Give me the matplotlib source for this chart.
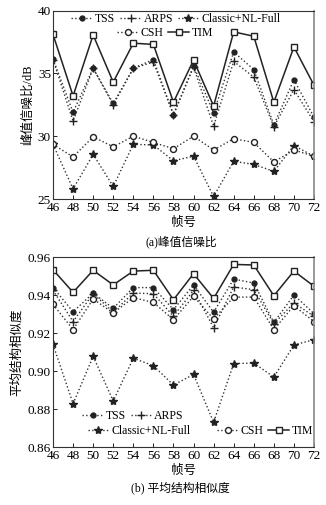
import matplotlib
matplotlib.use("Agg")
import matplotlib.pyplot as plt
from matplotlib.lines import Line2D

plt.rcParams['font.family'] = ['Liberation Serif', 'Noto Sans CJK SC']
plt.rcParams['mathtext.fontset'] = 'stix'

frames = [46, 48, 50, 52, 54, 56, 58, 60, 62, 64, 66, 68, 70, 72]

psnr_tss = [36.15, 31.9, 35.4, 32.6, 35.4, 36.1, 31.7, 35.6, 31.85, 36.7, 35.3, 30.9, 34.5, 31.5]
psnr_arps = [36.1, 31.2, 35.4, 32.5, 35.4, 35.9, 31.7, 35.5, 30.8, 35.95, 34.7, 30.75, 33.7, 31.15]
psnr_classic = [29.35, 25.8, 28.55, 26.0, 29.35, 29.3, 28.05, 28.4, 25.2, 28.0, 27.75, 27.2, 29.25, 28.4]
psnr_csh = [29.35, 28.35, 29.95, 29.15, 30.0, 29.5, 29.0, 30.0, 28.9, 29.8, 29.5, 27.95, 28.9, 28.4]
psnr_tim = [38.1, 33.2, 38.05, 34.3, 37.4, 37.3, 32.7, 36.05, 32.4, 38.3, 37.95, 32.7, 37.1, 34.05]

ssim_tss = [0.9439, 0.9312, 0.941, 0.933, 0.9439, 0.9439, 0.9323, 0.9453, 0.9309, 0.9484, 0.9463, 0.9256, 0.940, 0.9302]
ssim_arps = [0.9425, 0.926, 0.9407, 0.931, 0.941, 0.9407, 0.9288, 0.9425, 0.9228, 0.9442, 0.9428, 0.9249, 0.9358, 0.9288]
ssim_classic = [0.914, 0.8828, 0.9077, 0.8842, 0.9067, 0.9028, 0.8926, 0.8982, 0.873, 0.9039, 0.9042, 0.8968, 0.9137, 0.9165]
ssim_csh = [0.9351, 0.9218, 0.9379, 0.9305, 0.9386, 0.9361, 0.927, 0.9393, 0.9274, 0.9389, 0.9389, 0.9218, 0.9344, 0.926]
ssim_tim = [0.9533, 0.9414, 0.953, 0.9453, 0.9526, 0.953, 0.9375, 0.9512, 0.9382, 0.9561, 0.9558, 0.9396, 0.9526, 0.9446]

names = ['TSS', 'ARPS', 'Classic+NL-Full', 'CSH', 'TIM']

FS = 8.5
TFS = 9.5
LFS = 9
W, H = 326, 505
fig = plt.figure(figsize=(W / 100, H / 100), dpi=100)

styles = {
    'TSS': dict(ls=':', marker='o', ms=3.5, mfc='#222222', mec='#222222', color='#333333', lw=1.0),
    'ARPS': dict(ls=':', marker='+', ms=6, mew=1.0, mec='#222222', color='#333333', lw=1.0),
    'Classic+NL-Full': dict(ls=':', marker='*', ms=6, mfc='#222222', mec='#222222', color='#333333', lw=1.0),
    'CSH': dict(ls=':', marker='o', ms=4.3, mfc='white', mec='#222222', mew=1.0, color='#333333', lw=1.0),
    'TIM': dict(ls='-', marker='s', ms=4.3, mfc='white', mec='#222222', mew=1.0, color='#222222', lw=1.1),
}


def handles(keys):
    return [Line2D([], [], label=k, **styles[k]) for k in keys]


def setup(ax):
    ax.set_xlim(46, 72)
    ax.set_xticks(frames)
    ax.tick_params(direction='in', labelsize=TFS, length=3, width=0.6, pad=1.5)
    ax.tick_params(axis='x', pad=2.5)
    for s in ax.spines.values():
        s.set_linewidth(0.8)
        s.set_color('#333333')
    ax.spines['right'].set_color('#888888')
    ax.spines['right'].set_linewidth(1.2)


def px(x, y):
    return (x / W, 1 - y / H)


# Top plot
ax1 = fig.add_axes([53 / W, 1 - 199 / H, 261 / W, 188.5 / H])
for k, d in zip(names, [psnr_tss, psnr_arps, psnr_classic, psnr_csh, psnr_tim]):
    ax1.plot(frames, d, **styles[k])
setup(ax1)
ax1.set_ylim(25, 40)
ax1.set_yticks([25, 30, 35, 40])
ax1.set_ylabel('峰值信噪比/dB', fontsize=LFS, labelpad=3)
ax1.set_xlabel('帧号', fontsize=LFS, labelpad=2)
fig.text(*px(181, 242), '(a)峰值信噪比', ha='center', va='center', fontsize=FS)

leg_kw = dict(frameon=False, fontsize=FS, handlelength=1.8, handletextpad=0.2,
              columnspacing=0.4, borderpad=0, borderaxespad=0, loc='center')
fig.legend(handles=handles(['TSS', 'ARPS', 'Classic+NL-Full']), ncol=3,
           bbox_to_anchor=px(176, 19), **leg_kw)
fig.legend(handles=handles(['CSH', 'TIM']), ncol=2,
           bbox_to_anchor=px(165, 33), **leg_kw)

# Bottom plot
ax2 = fig.add_axes([53 / W, 1 - 447 / H, 261 / W, 190 / H])
for k, d in zip(names, [ssim_tss, ssim_arps, ssim_classic, ssim_csh, ssim_tim]):
    ax2.plot(frames, d, **styles[k])
setup(ax2)
ax2.set_ylim(0.86, 0.96)
ax2.set_yticks([0.86, 0.88, 0.90, 0.92, 0.94, 0.96])
ax2.set_yticklabels(['%.2f' % v for v in [0.86, 0.88, 0.90, 0.92, 0.94, 0.96]])
ax2.set_ylabel('平均结构相似度', fontsize=LFS, labelpad=3)
ax2.set_xlabel('帧号', fontsize=LFS, labelpad=2)
fig.text(*px(180, 488), '(b) 平均结构相似度', ha='center', va='center', fontsize=FS)

fig.legend(handles=handles(['TSS', 'ARPS']), ncol=2,
           bbox_to_anchor=px(133, 416), **leg_kw)
fig.legend(handles=handles(['Classic+NL-Full']), ncol=1,
           bbox_to_anchor=px(139, 431), **leg_kw)
fig.legend(handles=handles(['CSH', 'TIM']), ncol=2,
           bbox_to_anchor=px(265, 431), **leg_kw)

fig.savefig('out.png', dpi=100)
